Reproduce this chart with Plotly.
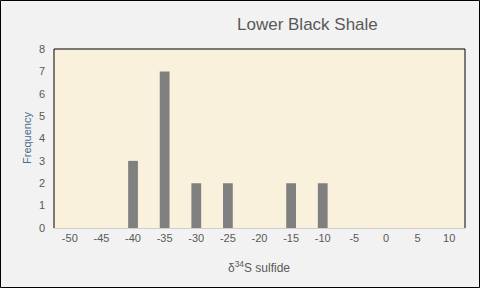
import plotly.graph_objects as go

categories = ["-50", "-45", "-40", "-35", "-30", "-25", "-20", "-15", "-10", "-5", "0", "5", "10"]
frequency = [0, 0, 3, 7, 2, 2, 0, 2, 2, 0, 0, 0, 0]
y_ticks = [0, 1, 2, 3, 4, 5, 6, 7, 8]

W, H = 480, 288
L, R, T, B = 54, 15, 49, 60
pw, ph = W - L - R, H - T - B

def px(x):
    return (x - L) / pw

def py(y):
    return (H - B - y) / ph

fig = go.Figure()
fig.add_trace(go.Bar(x=categories, y=frequency, marker_color="#808080",
                     marker_line_width=0, width=0.31))

font = "Liberation Sans"
fig.update_layout(
    width=W, height=H,
    margin=dict(l=L, r=R, t=T, b=B),
    paper_bgcolor="#F2F2F2",
    plot_bgcolor="#FAF1DC",
    showlegend=False,
    font=dict(family=font, color="#595959", size=11),
    xaxis=dict(type="category", categoryorder="array", categoryarray=categories,
               showgrid=False, showline=True, linecolor="#D0D0D0", linewidth=1,
               ticks="", tickfont=dict(size=11, color="#595959"), zeroline=False),
    yaxis=dict(range=[0, 8], tickvals=y_ticks, showgrid=False, zeroline=False,
               showline=False, ticks="", tickfont=dict(size=11, color="#595959")),
    annotations=[
        dict(text="Lower Black Shale", x=px(307), y=py(25), xref="paper", yref="paper",
             showarrow=False, font=dict(size=17, color="#595959", family=font),
             xanchor="center", yanchor="middle"),
        dict(text="Frequency", x=px(27), y=py(138), xref="paper", yref="paper",
             showarrow=False, textangle=-90, font=dict(size=11, color="#4F6A8F", family=font),
             xanchor="center", yanchor="middle"),
        dict(text="δ<sup>34</sup>S sulfide", x=px(259), y=py(267), xref="paper", yref="paper",
             showarrow=False, font=dict(size=12, color="#595959", family=font),
             xanchor="center", yanchor="middle"),
    ],
    shapes=[
        dict(type="line", xref="paper", yref="paper", x0=0, x1=0, y0=0, y1=1,
             line=dict(color="black", width=1)),
        dict(type="line", xref="paper", yref="paper", x0=0, x1=1, y0=1, y1=1,
             line=dict(color="black", width=1)),
        dict(type="line", xref="paper", yref="paper", x0=1, x1=1, y0=0, y1=1,
             line=dict(color="black", width=1)),
        dict(type="rect", xref="paper", yref="paper", x0=px(0.5), x1=px(W - 0.5),
             y0=py(H - 0.5), y1=py(0.5), line=dict(color="black", width=1)),
    ],
)
fig.update_yaxes(ticklabelstandoff=8)
fig.write_html("out.html")
